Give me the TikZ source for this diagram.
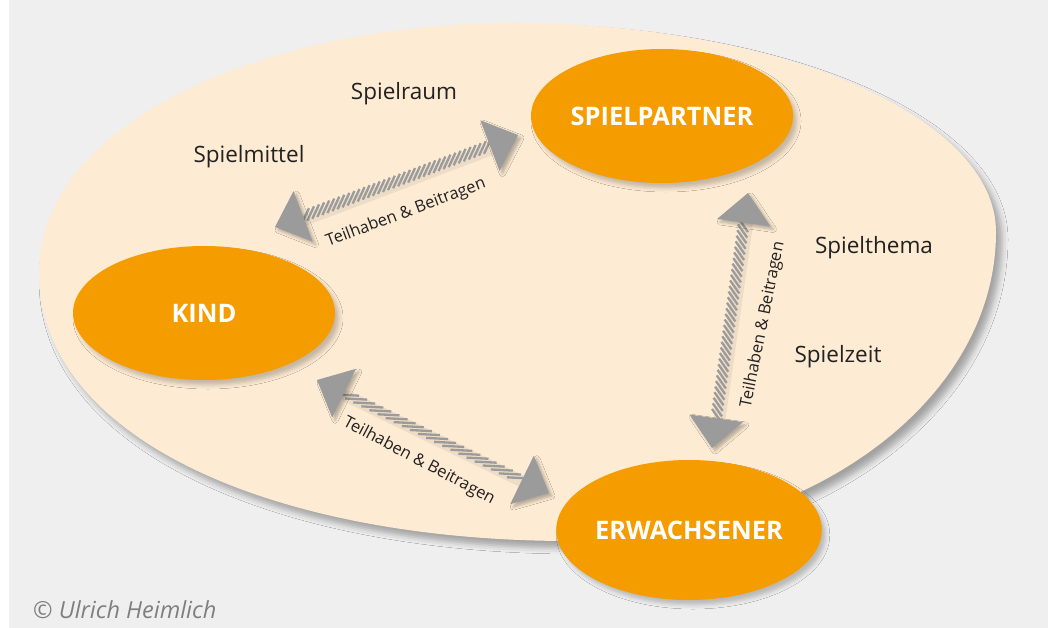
\documentclass[tikz,border=0pt]{standalone}
\usepackage{fontspec}
\setmainfont{Open Sans}
\usetikzlibrary{calc,shapes.geometric,shadows.blur}
\definecolor{bgc}{HTML}{EFEFEF}
\definecolor{creamc}{HTML}{FDEBD3}
\definecolor{orangec}{HTML}{F49C00}
\definecolor{arrowc}{HTML}{9B9B9B}
\definecolor{txtc}{HTML}{222222}
\definecolor{copyc}{HTML}{7F7F7F}
\newcommand\hatcharrow[5]{%
  \coordinate (#1-base) at ($(#1)!30pt!(#2)$);
  \coordinate (#2-base) at ($(#2)!30pt!(#1)$);
  \draw[line width=12pt, black, opacity=0.06, line cap=round, transform canvas={xshift=3pt,yshift=-3pt}] (#1-base) -- (#2-base);
  \foreach \k in {1,...,#5} {
    \coordinate (sc) at ($(#1-base)!{(\k-0.5)/#5}!(#2-base)$);
    \draw[stripe] ($(sc)+(#3:#4pt)$) -- ($(sc)-(#3:#4pt)$);
  }
  \fill[headc] (#1) -- ($(#1-base)!27pt!90:(#2)$) -- ($(#1-base)!27pt!-90:(#2)$) -- cycle;
  \fill[headc] (#2) -- ($(#2-base)!27pt!90:(#1)$) -- ($(#2-base)!27pt!-90:(#1)$) -- cycle;
}
\begin{document}
\begin{tikzpicture}[x=1pt,y=-1pt,
  actor/.style={ellipse, fill=orangec, minimum width=262pt, minimum height=134pt, inner sep=0pt,
    text=white, font=\bfseries\fontsize{25.5}{30}\selectfont,
    blur shadow={shadow xshift=4pt, shadow yshift=-5pt, shadow blur radius=4pt, shadow opacity=22}},
  topic/.style={text=txtc, font=\fontsize{22.5}{27}\selectfont, inner sep=0pt},
  arrlabel/.style={text=txtc, font=\fontsize{16.5}{20}\selectfont, inner sep=0pt},
  stripe/.style={draw=arrowc, line width=2.3pt},
  headc/.style={fill=arrowc, blur shadow={shadow xshift=3pt, shadow yshift=-3pt, shadow blur radius=3pt, shadow opacity=28}}]
\useasboundingbox (0,0) rectangle (1048,628);
\fill[white] (0,0) rectangle (1048,628);
\fill[bgc] (9,0) rectangle (1048,628);
% big field
\fill[creamc, blur shadow={shadow xshift=6pt, shadow yshift=-7pt, shadow blur radius=6pt, shadow opacity=32}]
  (39,273) .. controls (39,120) and (270,23) .. (513,23)
  .. controls (780,23) and (996,117) .. (996,232)
  .. controls (996,403) and (805,541) .. (570,541)
  .. controls (277,541) and (39,440) .. (39,273) -- cycle;
% nodes
\node[actor] (partner) at (662,116) {SPIELPARTNER};
\node[actor] (kind) at (204,313) {KIND};
\node[actor, minimum width=264pt, minimum height=140pt] (erw) at (689,530) {ERWACHSENER};
% arrows
\coordinate (a1) at (275,227);
\coordinate (b1) at (518,135);
\coordinate (a2) at (748,193);
\coordinate (b2) at (712,448);
\coordinate (a3) at (317,380);
\coordinate (b3) at (549,493);
\hatcharrow{a1}{b1}{65}{8}{37}
\hatcharrow{a2}{b2}{-55}{8}{35}
\hatcharrow{a3}{b3}{-3}{11}{22}
% labels
\node[arrlabel, rotate=20.6] (l1) at (406,213) {Teilhaben \& Beitragen};
\node[arrlabel, rotate=78.7] (l2) at (763,325) {Teilhaben \& Beitragen};
\node[arrlabel, rotate=-27.9] (l3) at (419,461) {Teilhaben \& Beitragen};
\node[topic] (raum) at (404,94) {Spielraum};
\node[topic] (mittel) at (249,157) {Spielmittel};
\node[topic] (thema) at (874,248) {Spielthema};
\node[topic] (zeit) at (838,357) {Spielzeit};
\node[text=copyc, font=\itshape\fontsize{23.5}{27}\selectfont, inner sep=0pt, anchor=west] (copy) at (33,610) {© Ulrich Heimlich};
\end{tikzpicture}
\end{document}
